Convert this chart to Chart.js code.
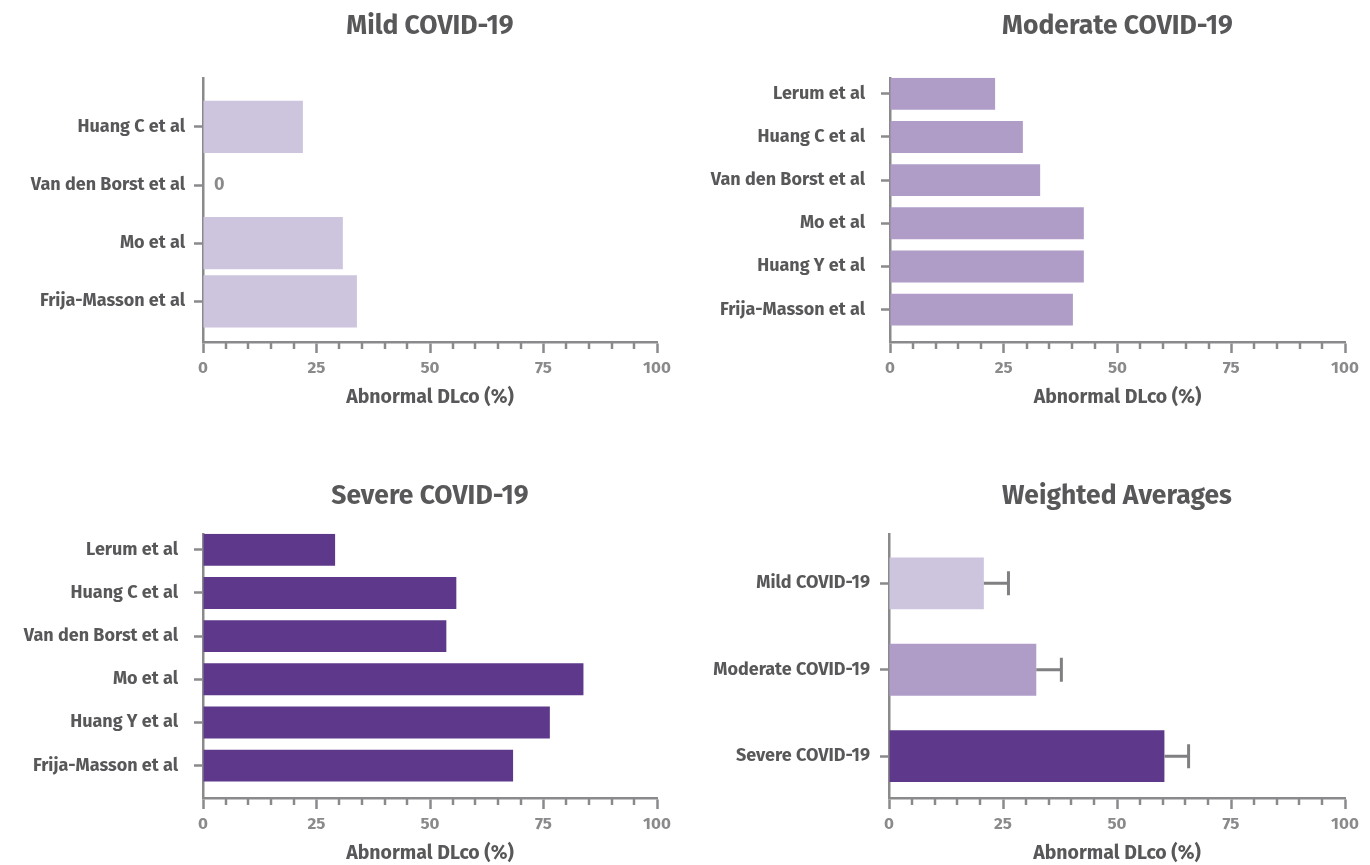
<!DOCTYPE html>
<html>
<head>
<meta charset="utf-8">
<script src="https://cdn.jsdelivr.net/npm/chart.js@4.4.1/dist/chart.umd.min.js"></script>
<style>
  html, body { margin: 0; padding: 0; background: #fff; overflow: hidden; }
  canvas { position: absolute; }
</style>
</head>
<body>
<canvas id="mild" width="685" height="432" style="left:0;top:0"></canvas>
<canvas id="moderate" width="685" height="432" style="left:685px;top:0"></canvas>
<canvas id="severe" width="685" height="432" style="left:0;top:433px"></canvas>
<canvas id="weighted" width="685" height="432" style="left:685px;top:433px"></canvas>
<script>
// data
var mildStudies = ['Huang C et al', 'Van den Borst et al', 'Mo et al', 'Frija-Masson et al'];
var mildValues = [22.0, 0, 30.8, 33.9];

var moderateStudies = ['Lerum et al', 'Huang C et al', 'Van den Borst et al', 'Mo et al', 'Huang Y et al', 'Frija-Masson et al'];
var moderateValues = [23.1, 29.2, 33.0, 42.6, 42.6, 40.2];

var severeStudies = ['Lerum et al', 'Huang C et al', 'Van den Borst et al', 'Mo et al', 'Huang Y et al', 'Frija-Masson et al'];
var severeValues = [29.1, 55.8, 53.6, 83.8, 76.4, 68.3];

var groups = ['Mild COVID-19', 'Moderate COVID-19', 'Severe COVID-19'];
var weightedValues = [20.8, 32.3, 60.4];
var weightedErrors = [5.4, 5.5, 5.3];

var axisTitle = 'Abnormal DLco (%)';

var FONT = "'Fira Sans', Lato, 'Open Sans', sans-serif";
var TEXT = '#58585a';
var TICK = '#8a8a8c';
var AXIS = '#8a8a8c';
var MILD = '#cdc4de';
var MODERATE = '#af9cc7';
var SEVERE = '#5e398b';

// short ticks every 5 between the labelled ones
var minorTicks = {
  id: 'minorTicks',
  afterDraw: function (chart) {
    var xs = chart.scales.x, ctx = chart.ctx;
    ctx.save();
    ctx.strokeStyle = AXIS;
    ctx.lineWidth = 2.5;
    for (var v = 5; v < 100; v += 5) {
      if (v % 25 === 0) continue;
      var px = Math.round(xs.getPixelForValue(v));
      ctx.beginPath();
      ctx.moveTo(px, xs.top);
      ctx.lineTo(px, xs.top + 7);
      ctx.stroke();
    }
    ctx.restore();
  }
};

// write "0" next to empty bars
var zeroLabels = {
  id: 'zeroLabels',
  afterDatasetsDraw: function (chart) {
    var ctx = chart.ctx, xs = chart.scales.x;
    var meta = chart.getDatasetMeta(0);
    var data = chart.data.datasets[0].data;
    ctx.save();
    ctx.fillStyle = TICK;
    ctx.font = 'bold 18px ' + FONT;
    ctx.textAlign = 'left';
    ctx.textBaseline = 'middle';
    meta.data.forEach(function (bar, i) {
      if (data[i].x === 0) ctx.fillText('0', xs.getPixelForValue(0) + 11, bar.y);
    });
    ctx.restore();
  }
};

var errorBars = {
  id: 'errorBars',
  afterDatasetsDraw: function (chart, args, opts) {
    if (!opts.errors) return;
    var ctx = chart.ctx, xs = chart.scales.x;
    var meta = chart.getDatasetMeta(0);
    var data = chart.data.datasets[0].data;
    ctx.save();
    ctx.strokeStyle = '#808082';
    ctx.lineWidth = 3;
    meta.data.forEach(function (bar, i) {
      var x0 = xs.getPixelForValue(data[i].x);
      var x1 = xs.getPixelForValue(data[i].x + opts.errors[i]);
      ctx.beginPath();
      ctx.moveTo(x0, bar.y);
      ctx.lineTo(x1, bar.y);
      ctx.moveTo(x1, bar.y - 12);
      ctx.lineTo(x1, bar.y + 12);
      ctx.stroke();
    });
    ctx.restore();
  }
};

function makeChart(id, title, labels, values, colors, o) {
  return new Chart(document.getElementById(id), {
    type: 'bar',
    data: {
      datasets: [{
        data: values.map(function (v, i) { return { x: v, y: i }; }),
        backgroundColor: colors,
        borderWidth: 0,
        barPercentage: o.bar,
        categoryPercentage: 1
      }]
    },
    options: {
      indexAxis: 'y',
      responsive: false,
      animation: false,
      layout: { padding: { left: 0, right: o.padRight, top: 0, bottom: o.padBottom } },
      plugins: {
        legend: { display: false },
        tooltip: { enabled: false },
        title: {
          display: true,
          text: title,
          fullSize: false,
          color: TEXT,
          font: { family: FONT, size: 26.5, weight: 'bold' },
          padding: { top: o.titleTop, bottom: o.titleBottom }
        },
        errorBars: { errors: o.errors }
      },
      scales: {
        x: {
          type: 'linear',
          min: 0,
          max: 100,
          afterFit: function (s) { s.height = 67; },
          border: { color: AXIS, width: 2.5 },
          grid: { drawOnChartArea: false, tickLength: 11, tickWidth: 2.5, tickColor: AXIS },
          ticks: { stepSize: 25, color: TICK, padding: 5, font: { family: FONT, size: 17, weight: 'bold' } },
          title: { display: true, text: axisTitle, color: TEXT, padding: 0, font: { family: FONT, size: 19.5, weight: 'bold' } }
        },
        y: {
          type: 'linear',
          reverse: true,
          offset: false,
          min: o.min,
          max: o.max,
          afterFit: function (s) { s.width = o.axisWidth; },
          afterBuildTicks: function (s) {
            s.ticks = labels.map(function (l, i) { return { value: i }; });
          },
          border: { color: AXIS, width: 2.5 },
          grid: { offset: false, drawOnChartArea: false, tickLength: 9, tickWidth: 2.5, tickColor: AXIS },
          ticks: {
            autoSkip: false,
            padding: o.labelGap,
            color: TEXT,
            font: { family: FONT, size: 18, weight: 'bold' },
            callback: function (v) { return labels[v]; }
          }
        }
      }
    },
    plugins: [minorTicks, zeroLabels, errorBars]
  });
}

makeChart('mild', 'Mild COVID-19', mildStudies, mildValues, MILD,
  { bar: 0.9, min: -0.845, max: 3.7, axisWidth: 203, padRight: 28, padBottom: 23, titleTop: 11, titleBottom: 35, labelGap: 9 });

makeChart('moderate', 'Moderate COVID-19', moderateStudies, moderateValues, MODERATE,
  { bar: 0.74, min: -0.37, max: 5.75, axisWidth: 205, padRight: 25, padBottom: 23, titleTop: 11, titleBottom: 35, labelGap: 16 });

makeChart('severe', 'Severe COVID-19', severeStudies, severeValues, SEVERE,
  { bar: 0.74, min: -0.37, max: 5.75, axisWidth: 203, padRight: 28, padBottom: 0, titleTop: 48, titleBottom: 21, labelGap: 16 });

makeChart('weighted', 'Weighted Averages', groups, weightedValues, [MILD, MODERATE, SEVERE],
  { bar: 0.6, min: -0.573, max: 2.484, axisWidth: 204, padRight: 25, padBottom: 0, titleTop: 48, titleBottom: 21, labelGap: 10, errors: weightedErrors });
</script>
</body>
</html>
